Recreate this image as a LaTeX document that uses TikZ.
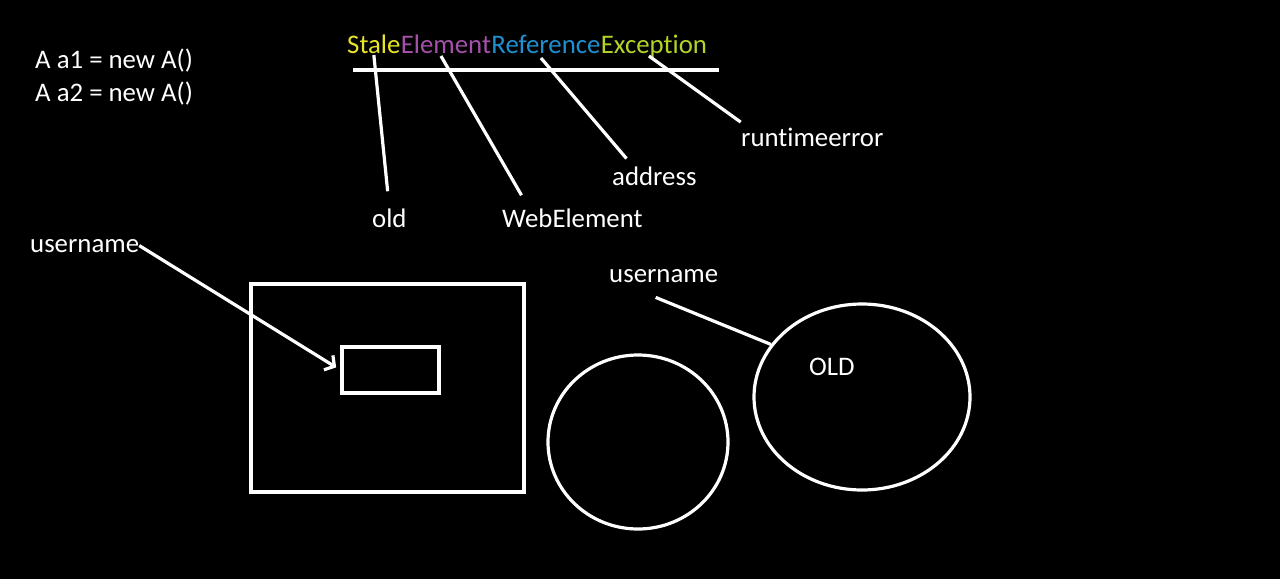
\documentclass[tikz,border=0pt]{standalone}
\usepackage{fontspec}
\setmainfont{Carlito}[Ligatures=NoCommon]
\usetikzlibrary{arrows.meta, positioning, shapes.geometric}
\definecolor{staleyellow}{RGB}{232,228,40}
\definecolor{elempurple}{RGB}{165,80,170}
\definecolor{refblue}{RGB}{30,145,210}
\definecolor{excgreen}{RGB}{180,212,40}

\begin{document}
\begin{tikzpicture}[
    x=1pt, y=-1pt,
    word/.style   = {inner sep=0pt, text=white,
                     font=\fontsize{26.8}{33}\selectfont},
    part/.style   = {word, anchor=base west},
    frame/.style  = {draw=white, line width=3.2pt, inner sep=0pt},
    stroke/.style = {white, line width=3.2pt},
    arrow/.style  = {stroke, -{Straight Barb[length=7pt, width=17pt]}}
  ]
  \fill[black] (0,0) rectangle (1280,579);
  \useasboundingbox (0,0) rectangle (1280,579);

  % code lines
  \node[part] (codeA) at (35,68)  {A a1 = new A()};
  \node[part] (codeB) at (35,101) {A a2 = new A()};

  % exception name
  \node[part, text=staleyellow] (stale) at (347,53) {Stale};
  \node[word, text=elempurple, base right=0pt of stale]   (element)   {Element};
  \node[word, text=refblue,    base right=0pt of element] (reference) {Reference};
  \node[word, text=excgreen,   base right=0pt of reference] (exception) {Exception};
  \coordinate (barL) at (353,70);
  \coordinate (barR) at (719,70);
  \draw[stroke] (barL) -- (barR);

  \node[part] (old)     at (372,227) {old};
  \node[part] (webel)   at (502,227) {WebElement};
  \node[part] (addr)    at (612,185) {address};
  \node[part] (runtime) at (741,146) {runtimeerror};

  \draw[stroke, shorten >=17pt] ([yshift=-2pt]stale.base) -- (old.north);
  \draw[stroke, shorten >=15pt] ([xshift=-5pt,yshift=-3pt]element.base) -- ([xshift=27pt]webel.north west);
  \draw[stroke, shorten >=10pt] ([xshift=-5pt,yshift=-5pt]reference.base) -- ([xshift=21pt]addr.north west);
  \draw[stroke, shorten >=9pt]  ([xshift=-5pt,yshift=-3pt]exception.base) -- ([xshift=7pt]runtime.north west);

  % page with element
  \node[part] (nameA) at (30,252) {username};
  \node[frame, minimum width=273pt, minimum height=208pt] (pagebox) at (387.5,388) {};
  \node[frame, minimum width=97pt, minimum height=46pt]   (userbox) at (390.5,370) {};
  \draw[arrow, shorten >=5pt] (nameA.east) -- (userbox.west);

  % circles
  \node[frame, ellipse, minimum width=180pt, minimum height=174pt] (newset) at (638,442) {};
  \node[frame, ellipse, minimum width=216pt, minimum height=186pt] (oldset) at (862,397) {};
  \node[part] (nameB)   at (609,282) {username};
  \node[part] (oldtext) at (809,375) {OLD};
  \draw[stroke] ([xshift=-8pt,yshift=-15pt]nameB.south) -- (oldset.150);
\end{tikzpicture}
\end{document}
